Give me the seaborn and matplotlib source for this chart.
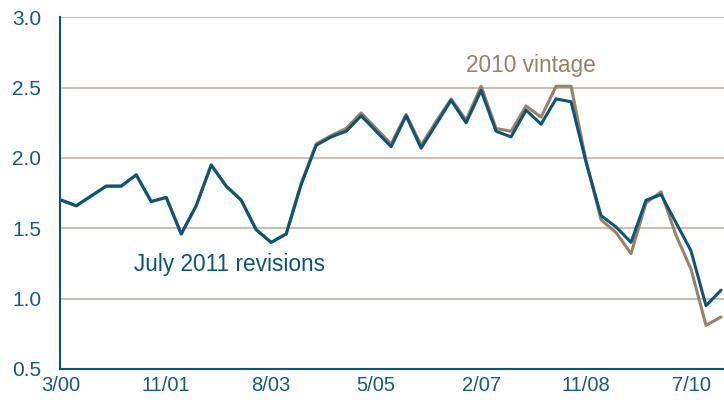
import numpy as np
import pandas as pd
import matplotlib
matplotlib.use("Agg")
import matplotlib.pyplot as plt
import seaborn as sns

# ---- data (quarterly) ----
july2011 = [1.70, 1.66, 1.73, 1.80, 1.80, 1.88, 1.69, 1.72, 1.46, 1.66,
            1.95, 1.80, 1.70, 1.49, 1.40, 1.46, 1.81, 2.09, 2.15, 2.19,
            2.30, 2.19, 2.08, 2.30, 2.07, 2.24, 2.41, 2.25, 2.48, 2.19,
            2.15, 2.34, 2.24, 2.42, 2.40, 1.97, 1.59, 1.51, 1.40, 1.70,
            1.74, 1.54, 1.34, 0.95, 1.06]
vintage2010 = [1.70, 1.66, 1.73, 1.80, 1.80, 1.88, 1.69, 1.72, 1.46, 1.66,
               1.95, 1.80, 1.70, 1.49, 1.40, 1.46, 1.82, 2.10, 2.16, 2.21,
               2.32, 2.21, 2.10, 2.31, 2.09, 2.26, 2.42, 2.27, 2.51, 2.21,
               2.19, 2.37, 2.29, 2.51, 2.51, 1.98, 1.56, 1.47, 1.32, 1.68,
               1.76, 1.45, 1.21, 0.81, 0.87]
tick_labels = ["3/00", "11/01", "8/03", "5/05", "2/07", "11/08", "7/10"]
tick_positions = [0, 7, 14, 21, 28, 35, 42]
series_names = ["2010 vintage", "July 2011 revisions"]

idx = np.arange(len(july2011))
df = pd.DataFrame({
    "q": np.concatenate([idx, idx]),
    "value": vintage2010 + july2011,
    "series": [series_names[0]] * len(idx) + [series_names[1]] * len(idx),
})

BLUE = "#0d5479"
BROWN = "#9a8267"
GRID = "#cbbfb2"
TXT = "#175a82"

sns.set_theme(style="white")
plt.rcParams["font.family"] = ["Liberation Sans", "DejaVu Sans"]

fig = plt.figure(figsize=(7.24, 4.16), dpi=100)
ax = fig.add_axes([60.5 / 724, 1 - 369 / 416, 1 - 60.5 / 724, (369 - 17.3) / 416])

sns.lineplot(data=df, x="q", y="value", hue="series",
             palette={series_names[0]: BROWN, series_names[1]: BLUE},
             hue_order=series_names, linewidth=2.2, legend=False, ax=ax,
             estimator=None)

ax.set_ylim(0.5, 3.0)
ax.set_xlim(-0.05, 44.2)
ax.set_yticks([0.5, 1.0, 1.5, 2.0, 2.5, 3.0])
ax.set_yticklabels(["0.5", "1.0", "1.5", "2.0", "2.5", "3.0"])
ax.set_xticks(tick_positions)
ax.set_xticklabels(tick_labels)
ax.set_xlabel("")
ax.set_ylabel("")

for y in [1.0, 1.5, 2.0, 2.5, 3.0]:
    ax.axhline(y, color=GRID, linewidth=1.5, zorder=0)

for s in ["top", "right"]:
    ax.spines[s].set_visible(False)
for s in ["left", "bottom"]:
    ax.spines[s].set_color(BLUE)
    ax.spines[s].set_linewidth(1.5)

ax.tick_params(axis="y", direction="in", length=5, width=1.2, color="#6f8fa6",
               labelsize=15, labelcolor=TXT, pad=14)
ax.tick_params(axis="x", direction="in", length=5, width=1.0, color="#6f8fa6",
               labelsize=14.5, labelcolor=TXT, pad=5)

ax.text(27.0, 2.66, "2010 vintage", color=BROWN, fontsize=16.3, ha="left", va="center")
ax.text(4.84, 1.245, "July 2011 revisions", color=BLUE, fontsize=16.3, ha="left", va="center")

fig.savefig("out.png", dpi=100)
